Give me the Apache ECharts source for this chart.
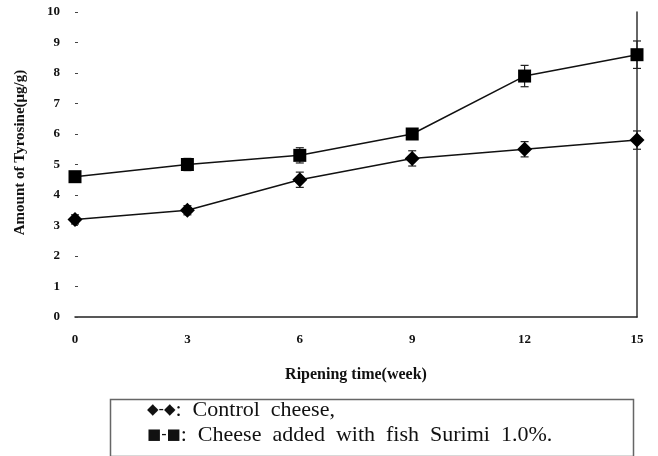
<!DOCTYPE html>
<html><head><meta charset="utf-8">
<script src="https://cdn.jsdelivr.net/npm/echarts@6/dist/echarts.min.js"></script>
<style>html,body{margin:0;padding:0;background:#fff}#c{width:658px;height:456px}</style>
</head><body><div id="c"></div>
<script>
const weeks = [0, 3, 6, 9, 12, 15];
const controlValues = [3.2, 3.5, 4.5, 5.2, 5.5, 5.8];
const controlErrors = [0.15, 0.15, 0.25, 0.25, 0.25, 0.3];
const surimiValues = [4.6, 5.0, 5.3, 6.0, 7.9, 8.6];
const surimiErrors = [0.1, 0.2, 0.25, 0.1, 0.35, 0.45];
const yTicks = [0,1,2,3,4,5,6,7,8,9,10];
const xTicks = [0,3,6,9,12,15];
const legendSymbols = ['◆-◆', '■-■'];
const legendTexts = [':  Control  cheese,', ':  Cheese  added  with  fish  Surimi  1.0%.'];

const chart = echarts.init(document.getElementById('c'));
const serif = '"Liberation Serif","DejaVu Serif",serif';

function errData(vals, errs){ return weeks.map((w,i)=>[w, vals[i]-errs[i], vals[i]+errs[i]]); }
function errSeries(vals, errs){
  return {
    type:'custom', silent:true, z:1,
    data: errData(vals, errs),
    renderItem: function(params, api){
      const x = api.value(0);
      const lo = api.coord([x, api.value(1)]);
      const hi = api.coord([x, api.value(2)]);
      const w = 4;
      const st = {stroke:'#222', lineWidth:1.2};
      return {type:'group', children:[
        {type:'line', shape:{x1:lo[0],y1:lo[1],x2:hi[0],y2:hi[1]}, style:st},
        {type:'line', shape:{x1:lo[0]-w,y1:lo[1],x2:lo[0]+w,y2:lo[1]}, style:st},
        {type:'line', shape:{x1:hi[0]-w,y1:hi[1],x2:hi[0]+w,y2:hi[1]}, style:st}
      ]};
    }
  };
}

function legendRow(i, top){
  return {type:'text', left:147, top:top, style:{
    text:'{s|' + legendSymbols[i] + '}{t|' + legendTexts[i] + '}',
    rich:{
      s:{font:'15px "DejaVu Sans",sans-serif', fill:'#111', verticalAlign:'middle'},
      t:{font:'22px '+serif, fill:'#111', verticalAlign:'middle'}
    }
  }};
}

chart.setOption({
  animation:false,
  backgroundColor:'#fff',
  grid:{left:75, right:21, top:12, bottom:139, containLabel:false},
  xAxis:{
    type:'value', min:0, max:15, interval:3,
    axisLine:{show:true, lineStyle:{color:'#222', width:1.5}},
    axisTick:{show:false},
    splitLine:{show:false},
    axisLabel:{color:'#111', fontFamily:serif, fontWeight:'bold', fontSize:13, margin:16,
      formatter: v => xTicks.includes(v) ? String(v) : ''},
    name:'Ripening time(week)', nameLocation:'middle', nameGap:50,
    nameTextStyle:{color:'#111', fontFamily:serif, fontWeight:'bold', fontSize:16}
  },
  yAxis:[{
    type:'value', min:0, max:10, interval:1,
    axisLine:{show:false},
    axisTick:{show:true, inside:true, length:3, lineStyle:{color:'#444'}},
    splitLine:{show:false},
    axisLabel:{color:'#111', fontFamily:serif, fontWeight:'bold', fontSize:13, margin:15,
      formatter: v => yTicks.includes(v) ? String(v) : ''},
    name:'Amount of Tyrosine(μg/g)', nameLocation:'middle', nameGap:47, nameRotate:90,
    nameTextStyle:{color:'#111', fontFamily:serif, fontWeight:'bold', fontSize:15, padding:[0,0,0,24]}
  },{
    type:'value', min:0, max:10, interval:1, position:'right',
    axisLine:{show:true, lineStyle:{color:'#333', width:1.5}},
    axisTick:{show:false}, axisLabel:{show:false}, splitLine:{show:false}
  }],
  series:[
    errSeries(controlValues, controlErrors),
    errSeries(surimiValues, surimiErrors),
    {type:'line', name:'Control cheese', data: weeks.map((w,i)=>[w, controlValues[i]]),
     symbol:'diamond', symbolSize:15, z:3,
     lineStyle:{color:'#111', width:1.5}, itemStyle:{color:'#000'}},
    {type:'line', name:'Cheese added with fish Surimi 1.0%', data: weeks.map((w,i)=>[w, surimiValues[i]]),
     symbol:'rect', symbolSize:13, z:3,
     lineStyle:{color:'#111', width:1.5}, itemStyle:{color:'#000'}}
  ],
  graphic:[
    {type:'rect', left:108, top:397, shape:{width:523, height:57},
     style:{fill:'none', stroke:'#666', lineWidth:1.5}},
    legendRow(0, 399),
    legendRow(1, 424)
  ]
});
</script></body></html>
